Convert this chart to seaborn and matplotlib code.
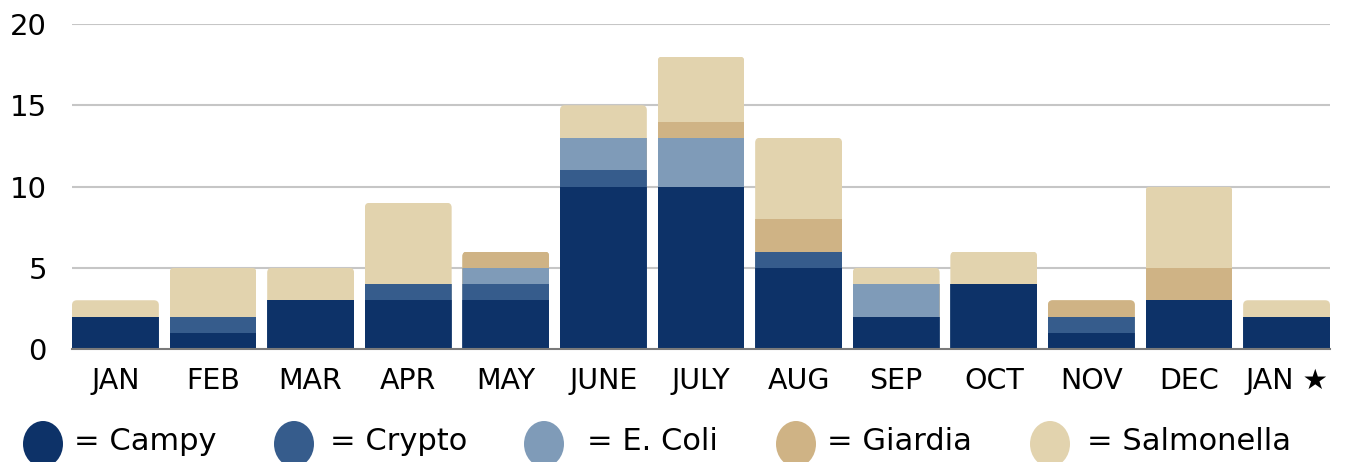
import matplotlib
matplotlib.use("Agg")
import matplotlib.pyplot as plt
from matplotlib.patches import FancyBboxPatch, Ellipse
import seaborn as sns
import pandas as pd
import numpy as np

months = ["JAN", "FEB", "MAR", "APR", "MAY", "JUNE", "JULY", "AUG", "SEP", "OCT", "NOV", "DEC", "JAN \u2605"]
campy      = [2, 1, 3, 3, 3, 10, 10, 5, 2, 4, 1, 3, 2]
crypto     = [0, 1, 0, 1, 1, 1, 0, 1, 0, 0, 1, 0, 0]
ecoli      = [0, 0, 0, 0, 1, 2, 3, 0, 2, 0, 0, 0, 0]
giardia    = [0, 0, 0, 0, 1, 0, 1, 2, 0, 0, 1, 2, 0]
salmonella = [1, 3, 2, 5, 0, 2, 4, 5, 1, 2, 0, 5, 1]

series_names = ["Campy", "Crypto", "E. Coli", "Giardia", "Salmonella"]
colors = ["#0d3268", "#365c8c", "#7f9bb8", "#cfb385", "#e2d3ae"]

sns.set_theme(style="white")
fam = ["DejaVu Sans"]
plt.rcParams["font.family"] = fam

df = pd.DataFrame({"month": months, "Campy": campy, "Crypto": crypto,
                   "E. Coli": ecoli, "Giardia": giardia, "Salmonella": salmonella})
cum = df[series_names].cumsum(axis=1)

fig = plt.figure(figsize=(13.67, 4.62), dpi=100)
ax = fig.add_axes([72/1367, 1-349/462, (1330-72)/1367, (349-24)/462])

bw = 0.89
for name, col in reversed(list(zip(series_names, colors))):
    sns.barplot(x=df["month"], y=cum[name], order=months, color=col,
                saturation=1, width=bw, ax=ax, zorder=3, linewidth=0)

totals = cum["Salmonella"].values
clips = []
for i, t in enumerate(totals):
    fb = FancyBboxPatch((i - bw/2, -2), bw, t + 2,
                        boxstyle="round,pad=0,rounding_size=0.05",
                        mutation_aspect=6.0, transform=ax.transData)
    clips.append(fb)
for p in ax.patches:
    cx = p.get_x() + p.get_width()/2
    idx = int(round(cx))
    if 0 <= idx < len(clips):
        p.set_clip_path(clips[idx])

ax.set_xlim(-bw/2, len(months) - 1 + bw/2)
ax.set_ylim(0, 20)
ax.set_yticks([0, 5, 10, 15, 20])
ax.set_yticklabels(["0", "5", "10", "15", "20"], fontsize=21, color="black")
ax.set_xticks(range(len(months)))
ax.set_xticklabels(months, fontsize=20.5, color="black")
ax.tick_params(axis="y", length=0, pad=18)
ax.tick_params(axis="x", length=0, pad=13)
ax.set_xlabel("")
ax.set_ylabel("")
for y in [5, 10, 15, 20]:
    ax.axhline(y, color="#c6c6c6", lw=1.5, zorder=1)
for s in ["top", "right", "left"]:
    ax.spines[s].set_visible(False)
ax.spines["bottom"].set_color("#7a7a7a")
ax.spines["bottom"].set_linewidth(1.5)
ax.spines["bottom"].set_zorder(4)

# legend
W, H = 1367, 462
leg = [(43, 74), (294, 330), (544, 587), (796, 827), (1050, 1087)]
for (ex, tx), name, col in zip(leg, series_names, colors):
    e = Ellipse((ex/W, 1-444/H), 40/W, 46/H, transform=fig.transFigure,
                facecolor=col, edgecolor="none")
    fig.add_artist(e)
    fig.text(tx/W, 1-442/H, "= " + name, fontsize=22, va="center", ha="left",
             color="black")

fig.savefig("out.png", dpi=100)
